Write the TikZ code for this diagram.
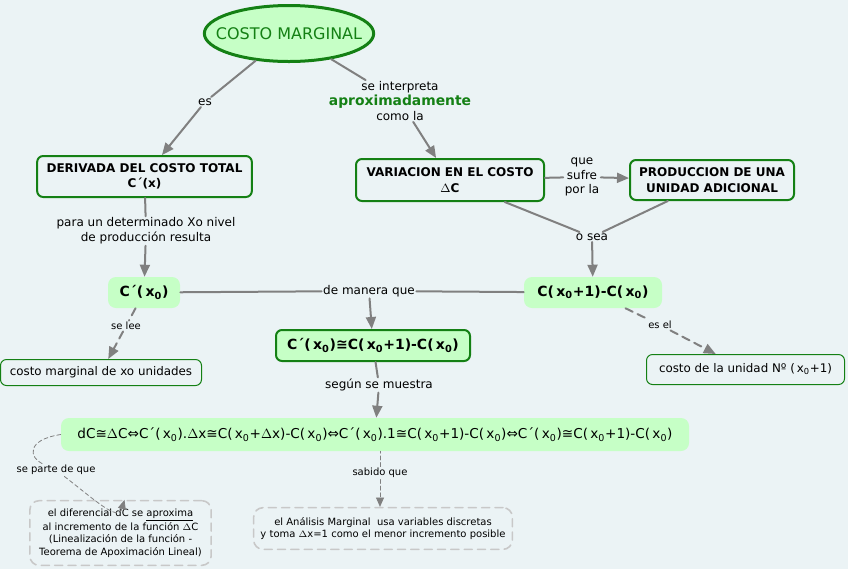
\documentclass[tikz,border=0pt]{standalone}
\usepackage{fontspec}
\setmainfont{DejaVu Sans}
\usepackage{pgf,tikz}
\usetikzlibrary{arrows,arrows.meta,shapes.geometric}
\definecolor{fondo}{RGB}{235,243,245}
\definecolor{verdeclaro}{RGB}{198,255,198}
\definecolor{verde}{RGB}{20,128,20}
\definecolor{gris}{RGB}{128,128,128}
\definecolor{grisclaro}{RGB}{200,200,200}
\newcommand{\xcero}{x\textsubscript{0}}

\begin{document}
\begin{tikzpicture}[line cap=round,line join=round,>={Triangle[length=9pt,width=7.5pt]},x=0.75pt,y=-0.75pt,
  caja/.style={draw=verde,line width=1.5pt,rounded corners=4.5pt,fill=fondo,align=center,inner sep=2pt,font=\fontsize{9}{11.5}\selectfont\bfseries},
  formula/.style={fill=verdeclaro,rounded corners=6pt,align=center,inner sep=2pt,font=\fontsize{10.5}{12}\selectfont\bfseries},
  hoja/.style={draw=verde,line width=0.75pt,rounded corners=4.5pt,fill=fondo,align=center,inner sep=2pt,font=\fontsize{8.9}{10}\selectfont},
  nota/.style={draw=grisclaro,line width=1.2pt,dash pattern=on 6pt off 4pt,rounded corners=7pt,fill=fondo,align=center,inner sep=2pt,font=\fontsize{7.5}{9.5}\selectfont},
  enlace/.style={fill=fondo,inner sep=1pt,align=center,font=\fontsize{9}{11}\selectfont},
  enlacechico/.style={fill=fondo,inner sep=1pt,align=center,font=\fontsize{7.5}{9}\selectfont},
  linea/.style={gris,line width=1.5pt},
  lineadash/.style={gris,line width=1.5pt,dash pattern=on 6pt off 4pt},
  fina/.style={gris,line width=0.6pt,dash pattern=on 3pt off 2pt,>={Triangle[length=7pt,width=6pt]}}]

\fill[fondo] (0,0) rectangle (848,569);

% conceptos
\node[ellipse,draw=verde,line width=2.25pt,fill=verdeclaro,inner sep=0pt,minimum width=127pt,minimum height=42pt,text=verde,font=\fontsize{12}{14}\selectfont] (costo) at (289,33.5) {\makebox[80pt][c]{COSTO MARGINAL}};
\node[caja,minimum width=161pt,minimum height=30.75pt] (derivada) at (144.5,176.5) {DERIVADA DEL COSTO TOTAL\\C´(x)};
\node[caja,minimum width=141pt,minimum height=31.5pt] (variacion) at (450,180) {VARIACION EN EL COSTO\\$\Delta$C};
\node[caja,minimum width=123pt,minimum height=30pt] (produccion) at (712,180) {PRODUCCION DE UNA\\UNIDAD ADICIONAL};
\node[formula,minimum width=54pt,minimum height=23.25pt] (cprima) at (144,292.5) {C´(\,\xcero)};
\node[formula,minimum width=103.5pt,minimum height=23.25pt] (cincr) at (593,292.5) {C(\,\xcero+1)-C(\,\xcero)};
\node[formula,draw=verde,line width=1.5pt,rounded corners=4.5pt,minimum width=145.5pt,minimum height=23.25pt,font=\fontsize{10.5}{12}\selectfont\bfseries] (aprox) at (373,345.5) {C´(\,\xcero)≅C(\,\xcero+1)-C(\,\xcero)};
\node[hoja,minimum width=150.75pt,minimum height=19.5pt] (cmarg) at (101,372.5) {costo marginal de xo unidades};
\node[hoja,minimum width=148.5pt,minimum height=22.5pt] (cunidad) at (745.5,369.5) {costo de la unidad Nº (\,\xcero+1)};
\node[formula,minimum width=471pt,minimum height=24.75pt,font=\fontsize{10.2}{12}\selectfont] (cadena) at (375,434.5) {dC≅$\Delta$C⇔C´(\,\xcero).$\Delta$x≅C(\,\xcero+$\Delta$x)-C(\,\xcero)⇔C´(\,\xcero).1≅C(\,\xcero+1)-C(\,\xcero)⇔C´(\,\xcero)≅C(\,\xcero+1)-C(\,\xcero)};
\node[nota,minimum width=136pt,minimum height=48.5pt] (lineal) at (120.5,533) {el diferencial dC se \underline{aproxima}\\al incremento de la función $\Delta$C\\(Linealización de la función -\\Teorema de Apoximación Lineal)};
\node[nota,minimum width=194pt,minimum height=31.25pt] (discreto) at (383,528.5) {el Análisis Marginal\ \ usa variables discretas\\y toma $\Delta$x=1 como el menor incremento posible};

% frases de enlace
\node[enlace] (es) at (205,102) {es};
\node[enlace] (interpreta) at (400,101) {se interpreta\\{\fontsize{10.4}{12}\selectfont\bfseries\color{verde}aproximadamente}\\como la};
\node[enlace] (para) at (146,231) {para un determinado Xo nivel\\de producción resulta};
\node[enlace] (sufre) at (582,177) {que\\sufre\\por la};
\node[enlace] (osea) at (592,237) {o sea};
\node[enlace] (manera) at (369,291) {de manera que};
\node[enlacechico] (lee) at (126,326) {se lee};
\node[enlacechico] (esel) at (660,325) {es el};
\node[enlace] (segun) at (379,385) {según se muestra};
\node[enlacechico] (parte) at (56,470) {se parte de que};
\node[enlacechico] (sabido) at (380,473) {sabido que};

% conectores
\draw[linea] (costo) -- (es);
\draw[linea,->] (es) -- (derivada);
\draw[linea] (costo) -- (interpreta);
\draw[linea,->] (interpreta) -- (variacion);
\draw[linea] (derivada) -- (para);
\draw[linea,->] (para) -- (cprima);
\draw[linea] (variacion) -- (sufre);
\draw[linea,->] (sufre) -- (produccion);
\draw[linea] (variacion) -- (osea);
\draw[linea] (produccion) -- (osea);
\draw[linea,->] (osea) -- (cincr);
\draw[linea] (cprima) -- (manera);
\draw[linea] (cincr) -- (manera);
\draw[linea,->] (manera) -- (aprox);
\draw[lineadash] (cprima) -- (lee);
\draw[lineadash,->] (lee) -- (cmarg);
\draw[lineadash] (cincr) -- (esel);
\draw[lineadash,->] (esel) -- (cunidad);
\draw[linea] (aprox) -- (segun);
\draw[linea,->] (segun) -- (cadena);
\draw[fina] (sabido) -- (sabido |- cadena.south);
\draw[fina,->] (sabido) -- (sabido |- discreto.north);
\draw[fina] (cadena.west) .. controls (25,440) and (30,458) .. (parte);
\draw[fina,->] (parte) .. controls (95,500) and (118,522) .. ([xshift=3pt]lineal.north);

\end{tikzpicture}
\end{document}
